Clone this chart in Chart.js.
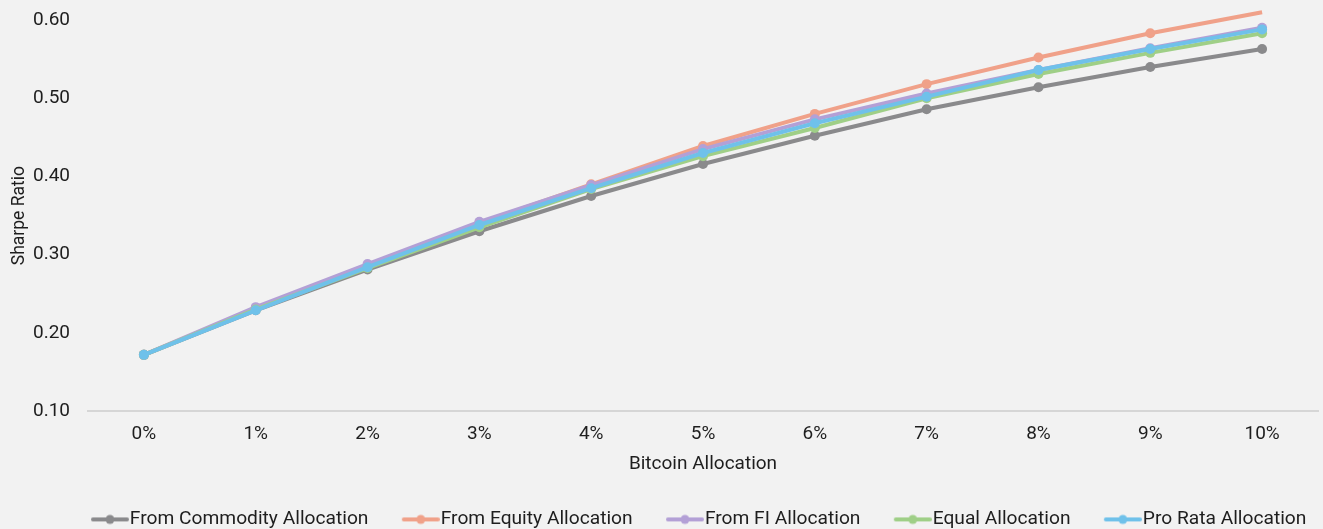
<!DOCTYPE html>
<html>
<head>
<meta charset="utf-8">
<script src="https://cdn.jsdelivr.net/npm/chart.js@4.4.1/dist/chart.umd.min.js"></script>
<style>
  html, body { margin: 0; padding: 0; background: #f2f2f2; }
  #wrap { width: 1323px; height: 529px; }
</style>
</head>
<body>
<div id="wrap"><canvas id="c" width="1323" height="529"></canvas></div>
<script>
// Bitcoin allocation steps on the x axis
const allocations = ['0%', '1%', '2%', '3%', '4%', '5%', '6%', '7%', '8%', '9%', '10%'];

// Sharpe ratio by funding source of the Bitcoin allocation
const fromCommodity = [0.172, 0.229, 0.281, 0.330, 0.375, 0.416, 0.452, 0.486, 0.514, 0.540, 0.563];
const fromEquity    = [0.172, 0.231, 0.285, 0.340, 0.390, 0.439, 0.480, 0.518, 0.552, 0.583, 0.610];
const fromFI        = [0.172, 0.233, 0.288, 0.342, 0.389, 0.435, 0.473, 0.506, 0.536, 0.564, 0.590];
const equalAlloc    = [0.172, 0.230, 0.283, 0.335, 0.384, 0.426, 0.462, 0.500, 0.531, 0.558, 0.583];
const proRata       = [0.172, 0.229, 0.284, 0.338, 0.385, 0.430, 0.468, 0.502, 0.536, 0.563, 0.588];

// Y axis tick values
const sharpeTicks = [0.10, 0.20, 0.30, 0.40, 0.50, 0.60];

const seriesNames = ['From Commodity Allocation', 'From Equity Allocation', 'From FI Allocation', 'Equal Allocation', 'Pro Rata Allocation'];
const seriesColors = ['#8a8a8c', '#f0a189', '#b3a0d6', '#9fcf87', '#6fc1ea'];
const seriesData = [fromCommodity, fromEquity, fromFI, equalAlloc, proRata];

const FONT = 'Roboto, "Liberation Sans", sans-serif';
const TEXT = '#1e1e1e';
const LEGEND_SIZE = 19.2;
const LEGEND_PAD = 5;
// Marker canvas: blank lead-in on the left, then a short line with a dot
const MARK_BLANK = 37, MARK_LINE = 38;
const MARK_W = MARK_BLANK + MARK_LINE;
const MARK_BOX = MARK_W - (LEGEND_SIZE / 2 + 7.75);

function legendMarker(color) {
  const cv = document.createElement('canvas');
  cv.width = MARK_W; cv.height = 12;
  const g = cv.getContext('2d');
  g.strokeStyle = color; g.lineWidth = 4; g.lineCap = 'round';
  g.beginPath(); g.moveTo(MARK_BLANK + 2, 6); g.lineTo(MARK_W - 2, 6); g.stroke();
  g.fillStyle = color;
  g.beginPath(); g.arc(MARK_BLANK + MARK_LINE / 2, 6, 4.5, 0, Math.PI * 2); g.fill();
  return cv;
}
const markers = seriesColors.map(legendMarker);

// Later series sit on top (lower order draws last)
const datasets = seriesNames.map((name, i) => ({
  label: name,
  data: seriesData[i],
  borderColor: seriesColors[i],
  backgroundColor: seriesColors[i],
  borderWidth: 4,
  pointRadius: 5,
  pointHoverRadius: 5,
  pointBorderWidth: 0,
  tension: 0,
  fill: false,
  clip: false,
  order: seriesNames.length - i
}));

const bgPlugin = {
  id: 'bg',
  beforeDraw(chart) {
    const ctx = chart.ctx;
    ctx.save();
    ctx.fillStyle = '#f2f2f2';
    ctx.fillRect(0, 0, chart.width, chart.height);
    ctx.restore();
  }
};

// Nudge the legend row so it lines up under the plot
const legendShift = {
  id: 'legendShift',
  afterLayout(chart) {
    const lg = chart.legend;
    if (lg) { lg.left += 21; lg.right += 21; }
  }
};

new Chart(document.getElementById('c'), {
  type: 'line',
  data: { labels: allocations, datasets },
  plugins: [bgPlugin, legendShift],
  options: {
    responsive: false,
    animation: false,
    layout: { padding: { left: 6, right: 2, top: 0, bottom: -10 } },
    plugins: {
      tooltip: { enabled: false },
      legend: {
        position: 'bottom',
        labels: {
          usePointStyle: true,
          pointStyleWidth: MARK_BOX,
          padding: LEGEND_PAD,
          color: TEXT,
          font: { family: FONT, size: LEGEND_SIZE },
          generateLabels(chart) {
            return chart.data.datasets.map((ds, i) => ({
              text: ds.label,
              fillStyle: ds.borderColor,
              strokeStyle: ds.borderColor,
              lineWidth: 0,
              pointStyle: markers[i],
              datasetIndex: i,
              hidden: false,
              fontColor: TEXT
            }));
          }
        }
      }
    },
    scales: {
      x: {
        offset: true,
        grid: { display: false, drawTicks: false },
        border: { display: true, color: '#d6d6d6', width: 2 },
        ticks: { color: TEXT, font: { family: FONT, size: 19 }, padding: 12 },
        title: { display: true, text: 'Bitcoin Allocation', color: TEXT, font: { family: FONT, size: 19 }, padding: { top: -5, bottom: 29 } }
      },
      y: {
        min: sharpeTicks[0],
        max: sharpeTicks[sharpeTicks.length - 1],
        afterBuildTicks(scale) { scale.ticks = sharpeTicks.map(v => ({ value: v })); },
        afterFit(scale) { scale.width = 82; scale.paddingTop = 20; scale.paddingBottom = 0; },
        grid: { display: false, drawTicks: false },
        border: { display: false },
        ticks: {
          color: TEXT,
          font: { family: FONT, size: 19 },
          padding: 18,
          callback: v => Number(v).toFixed(2)
        },
        title: { display: true, text: 'Sharpe Ratio', color: TEXT, font: { family: FONT, size: 17.5 }, padding: { top: 3.5, bottom: 2 } }
      }
    }
  }
});
</script>
</body>
</html>
